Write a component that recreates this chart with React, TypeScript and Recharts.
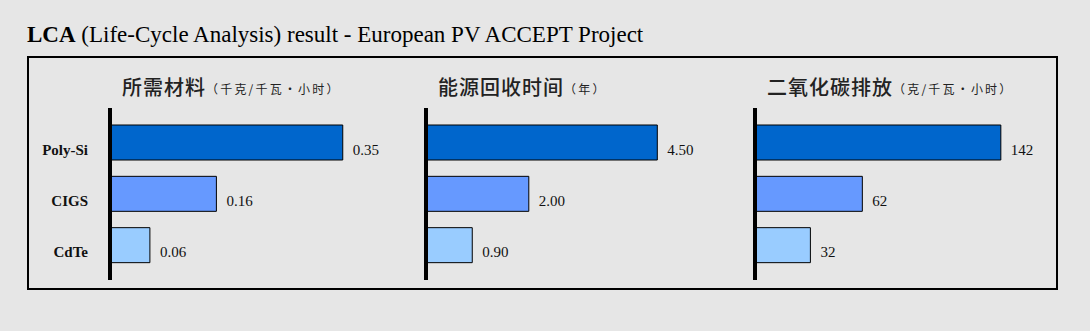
import React from 'react';
import { BarChart, Bar, XAxis, YAxis, Cell, LabelList } from 'recharts';

const categories = ['Poly-Si', 'CIGS', 'CdTe'];
const materialValues = [0.35, 0.16, 0.06];
const paybackValues = [4.5, 2.0, 0.9];
const co2Values = [142, 62, 32];
const barColors = ['#0066cc', '#6699ff', '#99ccff'];

const panelTitles = ['所需材料', '能源回收时间', '二氧化碳排放'];
const panelUnits = ['（千克/千瓦·小时）', '（年）', '（克/千瓦·小时）'];

const BG = '#e6e6e6';
const SERIF = '"Liberation Serif", "Times New Roman", serif';
const CJK = '"Noto Sans CJK SC", "Noto Sans", sans-serif';

const toRows = (values: number[]) => categories.map((name, i) => ({ name, value: values[i] }));

const CategoryTick = ({ x, y, payload }: any) => (
    <text x={x} y={y + 12} textAnchor="end" fontFamily={SERIF} fontSize={15} fontWeight="bold" fill="#111">
        {payload.value}
    </text>
);

const makeValueLabel = (fmt: (v: number) => string) => (props: any) => {
    const { x, y, width, height, value } = props;
    return (
        <text x={x + width + 10} y={y + height / 2 + 12} fontFamily={SERIF} fontSize={15} fill="#111">
            {fmt(Number(value))}
        </text>
    );
};

type PanelProps = {
    values: number[];
    domainMax: number;
    left: number;
    axisWidth: number;
    plotWidth: number;
    showCategories: boolean;
    fmt: (v: number) => string;
};

const Panel = ({ values, domainMax, left, axisWidth, plotWidth, showCategories, fmt }: PanelProps) => {
    const rightMargin = 50;
    return (
        <div style={{ position: 'absolute', left, top: 60 }}>
            <BarChart
                width={axisWidth + plotWidth + rightMargin}
                height={230}
                data={toRows(values)}
                layout="vertical"
                margin={{ top: 48, right: rightMargin, bottom: 10, left: 0 }}
                barSize={35}
            >
                <XAxis type="number" hide domain={[0, domainMax]} />
                <YAxis
                    type="category"
                    dataKey="name"
                    width={axisWidth}
                    axisLine={{ stroke: '#000', strokeWidth: 4 }}
                    tickLine={false}
                    tickMargin={16}
                    padding={{ top: 9, bottom: 9 }}
                    tick={showCategories ? <CategoryTick /> : false}
                />
                <Bar dataKey="value" stroke="#000" strokeWidth={1} isAnimationActive={false}>
                    {values.map((_, i) => (
                        <Cell key={`cell-${i}`} fill={barColors[i]} />
                    ))}
                    <LabelList dataKey="value" content={makeValueLabel(fmt)} />
                </Bar>
            </BarChart>
        </div>
    );
};

const PanelTitle = ({ left, title, unit }: { left: number; title: string; unit: string }) => (
    <div
        style={{
            position: 'absolute',
            left,
            top: 75,
            lineHeight: '24px',
            whiteSpace: 'nowrap',
            fontFamily: CJK,
            color: '#222',
        }}
    >
        <span style={{ fontSize: 20, letterSpacing: 1, fontWeight: 500 }}>{title}</span>
        <span style={{ fontSize: 12, letterSpacing: 2.2, position: 'relative', top: -1 }}>{unit}</span>
    </div>
);

export default function App() {
    return (
        <div style={{ position: 'absolute', left: 0, top: 0, width: 1090, height: 331, background: BG, overflow: 'hidden' }}>
            <div
                style={{
                    position: 'absolute',
                    left: 27,
                    top: 21,
                    fontFamily: SERIF,
                    fontSize: 23,
                    lineHeight: '28px',
                    color: '#000',
                    whiteSpace: 'nowrap',
                }}
            >
                <b>LCA</b> (Life-Cycle Analysis) result - European PV ACCEPT Project
            </div>

            <div
                style={{
                    position: 'absolute',
                    left: 27,
                    top: 56,
                    width: 1031,
                    height: 234,
                    border: '2px solid #000',
                    boxSizing: 'border-box',
                }}
            />

            <PanelTitle left={122} title={panelTitles[0]} unit={panelUnits[0]} />
            <PanelTitle left={438} title={panelTitles[1]} unit={panelUnits[1]} />
            <PanelTitle left={767} title={panelTitles[2]} unit={panelUnits[2]} />

            <Panel values={materialValues} domainMax={0.4} left={28} axisWidth={82} plotWidth={266} showCategories fmt={(v) => v.toFixed(2)} />
            <Panel values={paybackValues} domainMax={5} left={400} axisWidth={26} plotWidth={257} showCategories={false} fmt={(v) => v.toFixed(2)} />
            <Panel values={co2Values} domainMax={160} left={730} axisWidth={25} plotWidth={277} showCategories={false} fmt={(v) => String(Math.round(v))} />
        </div>
    );
}
